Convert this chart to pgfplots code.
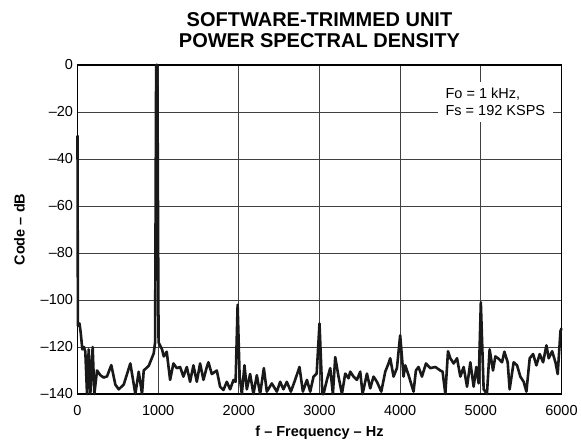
\documentclass[border=0pt]{standalone}
\usepackage{fontspec}
\setmainfont{Liberation Sans}
\usepackage{pgfplots}
\pgfplotsset{compat=1.18}
\begin{document}
\begin{tikzpicture}[x=1pt,y=1pt]
\path[use as bounding box] (-77.5,-46) rectangle (503.5,394);
\begin{axis}[
  scale only axis, width=484pt, height=329pt,
  anchor=south west, at={(0,0)},
  xmin=0, xmax=6000, ymin=-140, ymax=0,
  clip=false,
  xtick={0,1000,...,6000},
  xticklabels={0,1000,2000,3000,4000,5000,6000},
  ytick={-140,-120,...,0},
  yticklabels={–140,–120,–100,–80,–60,–40,–20,0},
  tick style={draw=none},
  grid=major,
  major grid style={black!75, line width=0.7pt},
  axis line style={black, line width=1.5pt},
  tick label style={font=\fontsize{14.5}{15}\selectfont},
  xticklabel style={yshift=-8pt},
  yticklabel style={xshift=-1pt},
  title={SOFTWARE-TRIMMED UNIT\\POWER SPECTRAL DENSITY},
  title style={font=\fontsize{20}{20.5}\selectfont\bfseries, align=center, yshift=8pt},
  xlabel={f – Frequency – Hz},
  ylabel={Code – dB},
  label style={font=\fontsize{14.5}{15}\selectfont\bfseries},
  xlabel style={yshift=-3pt},
  ylabel style={yshift=9pt},
]
\addplot[black!90, line width=2.6pt, line join=round] coordinates {
(0,-30) (5,-111) (25,-110) (40,-114) (60,-121) (80,-120) (97,-122) (118,-140) (139,-121) (159,-140) (188,-120) (209,-140)
(242,-130) (283,-132) (325,-133) (366,-132.5) (419,-127.7) (469,-136) (511,-138) (573,-136) (655,-127) (717,-140)
(759,-130.5) (800,-140) (821,-130) (883,-128) (945,-122.7) (962,-118) (975,0) (990,0) (1005,-118) (1048,-121)
(1070,-124) (1090,-123) (1106,-122) (1148,-134) (1189,-127) (1231,-129) (1272,-128.5) (1313,-132.6) (1355,-128.5)
(1396,-134.8) (1437,-127.8) (1479,-134.8) (1520,-127) (1561,-134) (1603,-128.5) (1623,-126.5) (1665,-131.5)
(1727,-130) (1768,-136.9) (1809,-138.3) (1851,-134.8) (1892,-138) (1934,-134) (1960,-134.8) (1985,-102)
(2010,-132.6) (2037,-140) (2070,-127.8) (2099,-138) (2140,-131.5) (2181,-140) (2223,-132) (2264,-140) (2310,-129)
(2347,-139) (2409,-135.5) (2471,-139) (2512,-134.8) (2553,-138) (2595,-134.8) (2645,-139) (2698,-134) (2752,-128.5)
(2794,-139) (2844,-134) (2885,-139) (2926,-132.6) (2965,-131.3) (3000,-110) (3035,-140) (3050,-140) (3092,-134)
(3133,-129) (3166,-140) (3195,-124.3) (3236,-132.6) (3278,-140) (3319,-131.3) (3360,-133.3) (3381,-130.5)
(3422,-132.6) (3464,-134) (3505,-130.5) (3534,-140) (3588,-131.3) (3629,-137.6) (3670,-132.6) (3712,-134.8)
(3766,-139) (3815,-130.5) (3856,-127) (3877,-124.8) (3918,-132.6) (3960,-129) (4000,-115) (4042,-132.6)
(4063,-127.8) (4104,-132) (4166,-139) (4195,-130) (4228,-128.5) (4270,-132.6) (4320,-127) (4373,-129)
(4436,-128.5) (4498,-130) (4526,-130.5) (4560,-140) (4593,-121.8) (4622,-124.8) (4663,-127) (4705,-124.8)
(4746,-132.6) (4787,-128.5) (4829,-136.9) (4870,-126.5) (4911,-136.9) (4944,-128.5) (4973,-135.5) (5000,-101)
(5035,-138) (5076,-140) (5109,-121) (5151,-130) (5180,-124) (5221,-125) (5263,-126.5) (5292,-122) (5333,-126.5)
(5357,-138) (5407,-126.5) (5449,-127.8) (5490,-132.6) (5531,-134.8) (5565,-139) (5606,-124.8) (5648,-123)
(5689,-127.8) (5730,-123) (5772,-126.5) (5813,-119.3) (5842,-124.8) (5884,-121.8) (5925,-126.5) (5953,-131.5)
(5987,-113.3) (6000,-112)
};
\node[fill=white, align=left, inner xsep=8pt, inner ysep=6pt, font=\fontsize{14.5}{17}\selectfont, anchor=center]
  at (axis cs:5180,-15.7) {Fo = 1 kHz,\\Fs = 192 KSPS};
\end{axis}
\end{tikzpicture}
\end{document}
